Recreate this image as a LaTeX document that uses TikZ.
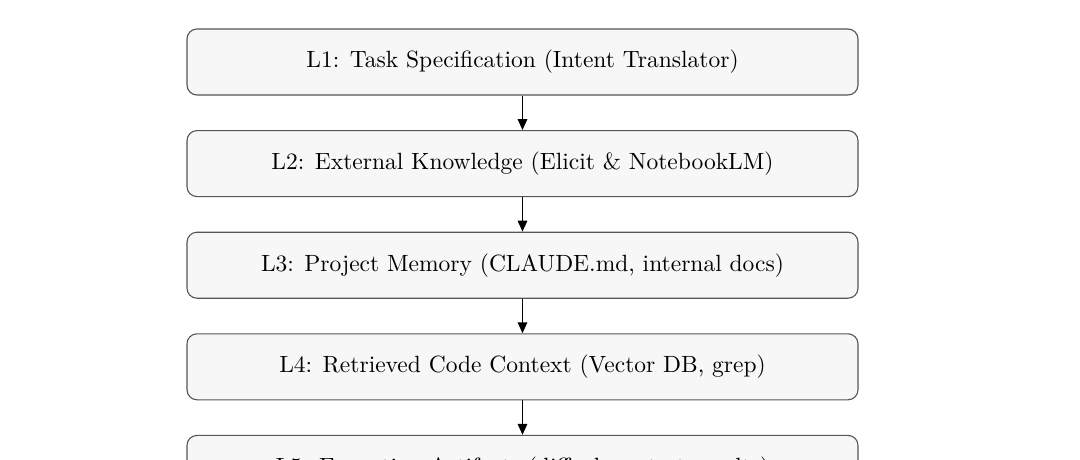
\documentclass[tikz,border=0pt]{standalone}
\usepackage{fontspec}
\newfontfamily\lmten{lmroman10-regular.otf}
\usetikzlibrary{arrows.meta}
\definecolor{boxfill}{HTML}{F7F7F7}
\definecolor{boxline}{HTML}{555555}
\tikzset{
  x=1pt, y=-1pt,
  layer/.style={draw=boxline, line width=1.1pt, fill=boxfill, rounded corners=10pt,
    minimum width=671pt, minimum height=66pt, inner sep=0pt,
    font=\lmten\fontsize{23.5}{28}\selectfont, text=black},
  flow/.style={-{Triangle[length=11pt,width=9.5pt]}, line width=1.7pt, black}
}
\begin{document}
\begin{tikzpicture}
\useasboundingbox (0,0) rectangle (1080,459);
\fill[white] (0,0) rectangle (1080,459);
\node[layer] (l1) at (522.5,62) {L1: Task Specification (Intent Translator)};
\node[layer] (l2) at (522.5,163.6) {L2: External Knowledge (Elicit \& NotebookLM)};
\node[layer] (l3) at (522.5,265.2) {L3: Project Memory (CLAUDE.md, internal docs)};
\node[layer] (l4) at (522.5,366.8) {L4: Retrieved Code Context (Vector DB, grep)};
\node[layer] (l5) at (522.5,468.4) {L5: Execution Artifacts (diffs, logs, test results)};
\draw[flow] (l1) -- (l2);
\draw[flow] (l2) -- (l3);
\draw[flow] (l3) -- (l4);
\draw[flow] (l4) -- (l5);
\end{tikzpicture}
\end{document}
